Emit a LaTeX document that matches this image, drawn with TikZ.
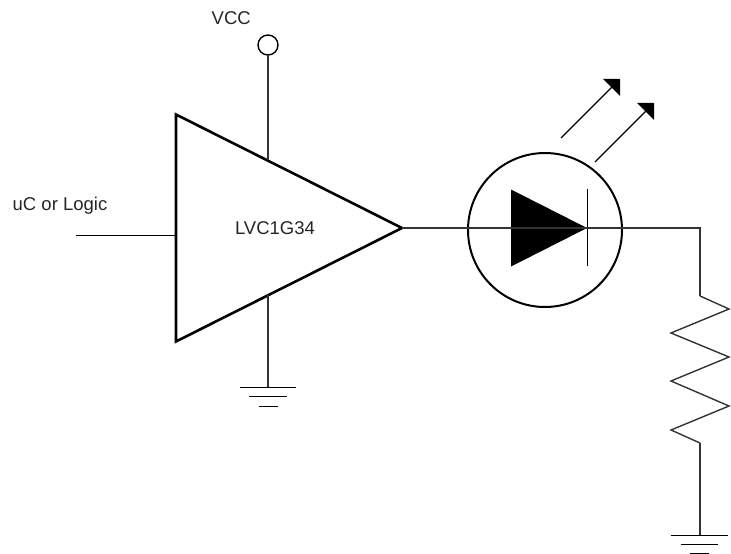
\documentclass[tikz,border=0pt]{standalone}
\usepackage{fontspec}
\setmainfont{Liberation Sans}
\usepackage{tikz}
\usetikzlibrary{shapes.geometric,arrows.meta}
\usetikzlibrary{positioning}
\tikzstyle{wire} = [line width=1.4pt,draw=black!80]
\tikzstyle{thinwire} = [line width=1pt,draw=black]
\tikzstyle{light} = [line width=1.1pt,draw=black,-{Triangle[length=12pt,width=24pt]}]
\tikzstyle{label} = [font=\fontsize{18.5}{20}\selectfont, text=black!85, inner sep=0pt]
\tikzstyle{buffer} = [
    isosceles triangle, isosceles triangle apex angle=53.13, isosceles triangle stretches,
    minimum width=227pt, minimum height=226pt, inner sep=0pt, outer sep=0pt,
    line width=2.6pt, draw=black, anchor=apex]
\tikzstyle{diode} = [
    isosceles triangle, isosceles triangle apex angle=53.13, isosceles triangle stretches,
    minimum width=77pt, minimum height=76pt, inner sep=0pt, outer sep=0pt,
    fill=black, anchor=apex]
\tikzstyle{pin} = [circle, minimum size=20pt, inner sep=0pt, outer sep=0pt, line width=1.4pt, draw=black]
\tikzstyle{ledring} = [circle, minimum size=154pt, inner sep=0pt, outer sep=0pt, line width=2pt, draw=black]

\begin{document}
\begin{tikzpicture}[x=1pt,y=-1pt]
\useasboundingbox (0,0) rectangle (731,554);

\node (buffer) [buffer] at (402,228) {};
\node (buffer-text) [label] at (275,228) {LVC1G34};
\node (vcc) [pin] at (268,45) {};
\node (vcc-text) [label,above left=13pt and 10pt of vcc] {VCC};
\node (logic-text) [label] at (60,206) {uC or Logic};

\coordinate (logic-in) at (76,235.5);
\coordinate (buffer-in) at (176,235.5);
\coordinate (buffer-vcc) at (268,160);
\coordinate (buffer-gnd) at (268,295);
\coordinate (gnd-one) at (268,387);

\node (led) [ledring] at (545,230) {};
\node (diode) [diode] at (587,228) {};
\coordinate (bar-top) at (587,189);
\coordinate (bar-bottom) at (587,266);
\coordinate (out-corner) at (700,228);
\coordinate (res-top) at (700,296);
\coordinate (res-bottom) at (700,443);
\coordinate (gnd-two) at (700,535);

\coordinate (ray-one-start) at (561,138);
\coordinate (ray-one-end) at (620,79);
\coordinate (ray-two-start) at (595,162);
\coordinate (ray-two-end) at (654,103);

\draw [thinwire] (logic-in) -- (buffer-in);
\draw [wire] (vcc) -- (buffer-vcc);
\draw [wire] (buffer-gnd) -- (gnd-one);
\draw [wire] (buffer.apex) -- (diode.apex);
\draw [thinwire] (bar-top) -- (bar-bottom);
\draw [wire] (diode.apex) -- (out-corner) -- (res-top);
\draw [wire] (res-top) -- (729,309) -- (671,333) -- (729,357) -- (671,381) -- (729,406) -- (671,430) -- (res-bottom);
\draw [wire] (res-bottom) -- (gnd-two);

\draw [light] (ray-one-start) -- (ray-one-end);
\draw [light] (ray-two-start) -- (ray-two-end);

\draw [thinwire] (240,387.5) -- (296,387.5);
\draw [thinwire] (249,396.5) -- (287,396.5);
\draw [thinwire] (259,406.5) -- (278,406.5);
\draw [thinwire] (671,535.5) -- (728,535.5);
\draw [thinwire] (681,544.5) -- (718,544.5);
\draw [thinwire] (690,553) -- (709,553);
\end{tikzpicture}
\end{document}
